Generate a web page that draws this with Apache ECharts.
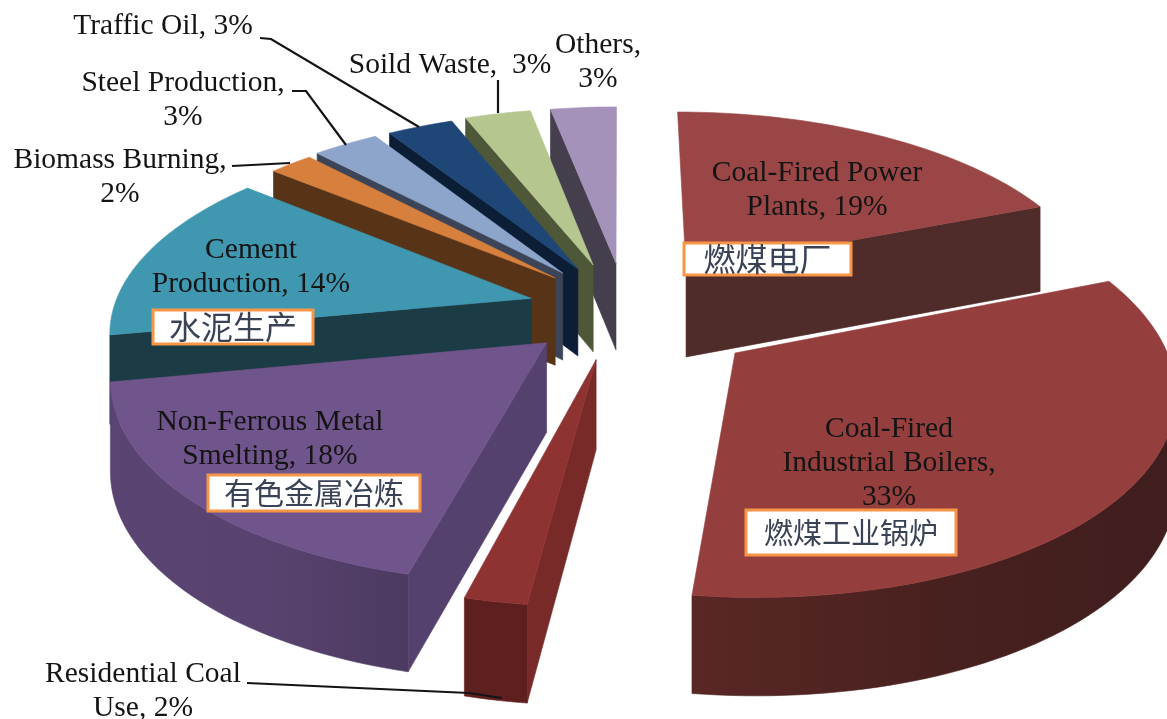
<!DOCTYPE html>
<html>
<head>
<meta charset="utf-8">
<style>
html, body { margin: 0; padding: 0; background: #fff; overflow: hidden; }
#chart { width: 1167px; height: 719px; }
</style>
<script src="https://cdn.jsdelivr.net/npm/echarts@6/dist/echarts.min.js"></script>
</head>
<body>
<div id="chart"></div>
<script>
// Emission sources and their percentage shares, clockwise from twelve o'clock.
const categories = [
  'Coal-Fired Power Plants', 'Coal-Fired Industrial Boilers', 'Residential Coal Use',
  'Non-Ferrous Metal Smelting', 'Cement Production', 'Biomass Burning',
  'Steel Production', 'Traffic Oil', 'Soild Waste', 'Others'
];
const shares = [19, 33, 2, 18, 14, 2, 3, 3, 3, 3];
const sliceLabels = [
  'Coal-Fired Power\nPlants, 19%', 'Coal-Fired\nIndustrial Boilers,\n33%', 'Residential Coal\nUse, 2%',
  'Non-Ferrous Metal\nSmelting, 18%', 'Cement\nProduction, 14%', 'Biomass Burning,\n2%',
  'Steel Production,\n3%', 'Traffic Oil, 3%', 'Soild Waste,  3%', 'Others,\n3%'
];
const chineseLabels = ['燃煤电厂', '燃煤工业锅炉', '', '有色金属冶炼', '水泥生产', '', '', '', '', ''];

// Slice styling: top face, cut face, outer wall gradient (left, middle, right).
const topColors = ['#9a4646', '#953e3e', '#8e3332', '#70548c', '#4097b0', '#d77f3c', '#8ea5cb', '#1e4778', '#b5c78f', '#a592ba'];
const cutColors = ['#4f2b2a', '#45201f', '#782a29', '#55416d', '#1b3b45', '#573317', '#3c4558', '#0c1e36', '#4e5738', '#443e4d'];
const rimColors = [
  ['#4f2b2a', '#4f2b2a', '#4f2b2a'], ['#5a2725', '#48211f', '#401d1e'], ['#5e201e', '#5e201e', '#5e201e'],
  ['#5a4572', '#584370', '#4c3a60'], ['#1b3b45', '#1b3b45', '#1b3b45'], ['#573317', '#573317', '#573317'],
  ['#3c4558', '#3c4558', '#3c4558'], ['#0c1e36', '#0c1e36', '#0c1e36'], ['#4e5738', '#4e5738', '#4e5738'],
  ['#443e4d', '#443e4d', '#443e4d']
];

// Explode offsets on the ground plane, in units of the pie radius.
const explode = [
  [0.163, 0.162], [0.266, -0.268], [-0.055, -0.3], [-0.171, -0.218], [-0.214, 0.0085],
  [-0.159, 0.118], [-0.141, 0.145], [-0.104, 0.167], [-0.0665, 0.189], [-0.0099, 0.199]
];
// Far slices are painted first so nearer ones overlap them.
const paintOrder = [9, 8, 7, 6, 5, 4, 3, 2, 0, 1];

// Perspective camera for the tilted pie.
const camera = { x: 620, y: 300, rx: 415, ry: 190, k: 0.15, depth: 88 };
// Cut faces seen almost edge-on are left out rather than drawn as slivers.
const minCutFaceArea = 3000;

function project(wx, wy, lowered) {
  const s = 1 / (1 + camera.k * wy);
  const drop = lowered ? camera.depth * (0.5 + 0.5 * s) : 0;
  return [camera.x + camera.rx * wx * s, camera.y - camera.ry * wy * s + drop];
}

function signedArea(pts) {
  let sum = 0;
  pts.forEach((p, i) => {
    const q = pts[(i + 1) % pts.length];
    sum += p[0] * q[1] - q[0] * p[1];
  });
  return sum;
}

function polygon(points, fill, stroke) {
  return {
    type: 'polygon',
    shape: { points },
    style: { fill, stroke: stroke || fill, lineWidth: 0.6 }
  };
}

function renderSlice(params, api) {
  const index = api.value(0);
  const share = api.value(1);
  const total = shares.reduce((a, b) => a + b, 0);
  const before = shares.slice(0, index).reduce((a, b) => a + b, 0);
  const start = before / total * Math.PI * 2;
  const end = (before + share) / total * Math.PI * 2;
  const [ox, oy] = explode[index];

  const steps = Math.max(4, Math.round((end - start) / (Math.PI / 120)));
  const rimAngles = [];
  for (let i = 0; i <= steps; i++) rimAngles.push(start + (end - start) * i / steps);
  const world = rimAngles.map(t => [ox + Math.sin(t), oy + Math.cos(t)]);
  const topRim = world.map(w => project(w[0], w[1], false));
  const lowRim = world.map(w => project(w[0], w[1], true));
  const tipTop = project(ox, oy, false);
  const tipLow = project(ox, oy, true);

  const children = [];

  // Flat cut faces along the two radii; only those turned to the viewer are drawn.
  [
    [tipTop, topRim[0], lowRim[0], tipLow],
    [topRim[steps], tipTop, tipLow, lowRim[steps]]
  ].forEach(face => {
    if (signedArea(face) < -minCutFaceArea) children.push(polygon(face, cutColors[index]));
  });

  // Curved outer wall, merged into runs of visible strips.
  let run = null;
  const flush = () => {
    if (!run) return;
    const pts = topRim.slice(run[0], run[1] + 1).concat(lowRim.slice(run[0], run[1] + 1).reverse());
    const shade = rimColors[index];
    children.push(polygon(pts, new echarts.graphic.LinearGradient(0, 0, 1, 0, [
      { offset: 0, color: shade[0] }, { offset: 0.5, color: shade[1] }, { offset: 1, color: shade[2] }
    ]), shade[1]));
    run = null;
  };
  for (let i = 0; i < steps; i++) {
    const strip = [topRim[i], topRim[i + 1], lowRim[i + 1], lowRim[i]];
    if (signedArea(strip) < 0) {
      if (run) run[1] = i + 1; else run = [i, i + 1];
    } else {
      flush();
    }
  }
  flush();

  // Top face.
  children.push(polygon([tipTop].concat(topRim), topColors[index]));
  return { type: 'group', children };
}

// Text centres and Chinese caption boxes, in page pixels.
const labelCentres = [
  [817, 190], [889, 463], [143, 691], [270, 439], [251, 267], [120, 177], [183, 100], [163, 26], [450, 65], [598, 62]
];
const captionBoxes = [
  [684, 243, 167, 32], [746, 510, 210, 45], null, [208, 475, 212, 36], [153, 310, 160, 34], null, null, null, null, null
];
const captionSizes = [32, 29, 0, 30, 32, 0, 0, 0, 0, 0];
// Leader lines from outside labels to their slices.
const leaderLines = [
  [[260, 38], [271, 39], [419, 127]],
  [[292, 91], [306, 91], [346, 145]],
  [[232, 166], [290, 163]],
  [[498, 80], [498, 113]],
  [[247, 683], [469, 693], [502, 698]]
];

const graphicElements = [];
leaderLines.forEach(points => {
  graphicElements.push({
    type: 'polyline', z: 50, shape: { points },
    style: { stroke: '#141414', lineWidth: 2.2, fill: null }
  });
});
sliceLabels.forEach((text, i) => {
  graphicElements.push({
    type: 'text', z: 60, x: labelCentres[i][0], y: labelCentres[i][1],
    style: {
      text, fill: '#141414', align: 'center', verticalAlign: 'middle',
      font: '29.5px "Liberation Serif"', lineHeight: 34
    }
  });
  if (captionBoxes[i]) {
    const [x, y, w, h] = captionBoxes[i];
    graphicElements.push({
      type: 'rect', z: 60, shape: { x, y, width: w, height: h },
      style: { fill: '#fff', stroke: '#f79646', lineWidth: 3 }
    });
    graphicElements.push({
      type: 'text', z: 61, x: x + w / 2, y: y + h / 2,
      style: {
        text: chineseLabels[i], fill: '#3a4356', align: 'center', verticalAlign: 'middle',
        font: captionSizes[i] + 'px "Noto Sans CJK SC"'
      }
    });
  }
});

const chart = echarts.init(document.getElementById('chart'), null, { renderer: 'canvas' });
chart.setOption({
  animation: false,
  backgroundColor: '#fff',
  graphic: { elements: graphicElements },
  series: [{
    type: 'custom',
    name: 'Emission sources',
    coordinateSystem: 'none',
    renderItem: renderSlice,
    silent: true,
    data: paintOrder.map(i => ({ name: categories[i], value: [i, shares[i]] }))
  }]
});
</script>
</body>
</html>
